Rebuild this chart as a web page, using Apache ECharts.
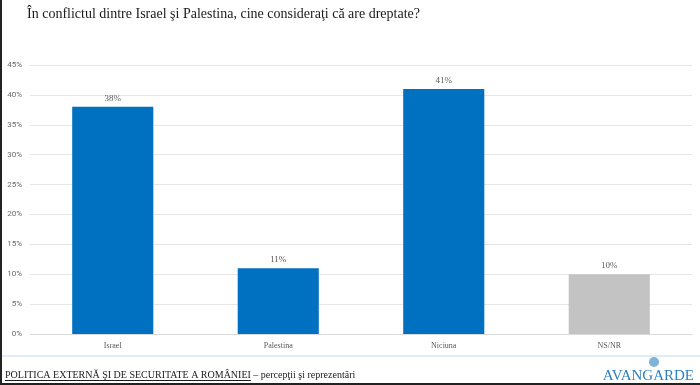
<!DOCTYPE html>
<html><head><meta charset="utf-8">
<script src="https://cdn.jsdelivr.net/npm/echarts@6/dist/echarts.min.js"></script>
<style>html,body{margin:0;padding:0;background:#fff}#c{width:700px;height:385px}</style>
</head><body><div id="c"></div>
<script>
const categories = ["Israel", "Palestina", "Niciuna", "NS/NR"];
const values = [38, 11, 41, 10];
const barColors = ["#0070c0", "#0070c0", "#0070c0", "#c3c3c3"];
const yTicks = [0, 5, 10, 15, 20, 25, 30, 35, 40, 45];
const titleText = "În conflictul dintre Israel şi Palestina, cine consideraţi că are dreptate?";
const footerMain = "POLITICA EXTERNĂ ŞI DE SECURITATE A ROMÂNIEI";
const footerSub = " – percepţii şi reprezentări";

const serif = '"Liberation Serif", "DejaVu Serif", serif';
const ctx = document.createElement('canvas').getContext('2d');
function w(text, font){ ctx.font = font; return ctx.measureText(text).width; }
const fFont = '10px ' + serif;
const tw = w(footerMain, fFont);

const chart = echarts.init(document.getElementById('c'), null, {renderer: 'canvas'});
chart.setOption({
  animation: false,
  backgroundColor: '#fff',
  grid: {left: 30, right: 8, top: 65, bottom: 51},
  xAxis: {
    type: 'category', data: categories,
    axisLine: {lineStyle: {color: '#d9d9d9'}},
    axisTick: {show: false},
    axisLabel: {color: '#595959', fontFamily: serif, fontSize: 8, margin: 8}
  },
  yAxis: {
    type: 'value', min: yTicks[0], max: yTicks[yTicks.length-1], interval: 5,
    axisLine: {show: false}, axisTick: {show: false},
    axisLabel: {color: '#6a6a6a', fontFamily: 'Roboto, sans-serif', fontSize: 8, margin: 8, formatter: v => v + '%'},
    splitLine: {lineStyle: {color: '#e6e6e6'}}
  },
  series: [{
    type: 'bar', barWidth: '49%',
    data: values.map((v, i) => ({value: v, itemStyle: {color: barColors[i]}})),
    label: {show: true, position: 'top', distance: 4, color: '#595959', fontFamily: serif, fontSize: 9, formatter: p => p.value + '%'}
  }],
  graphic: [
    {type: 'text', left: 27, top: 7, style: {text: titleText, font: '14px ' + serif, fill: '#1a1a1a'}},
    {type: 'line', shape: {x1: 0, y1: 356, x2: 700, y2: 356}, style: {stroke: '#c5d9ec', lineWidth: 1}},
    {type: 'text', left: 5, top: 370, style: {text: footerMain, font: fFont, fill: '#1a1a1a'}},
    {type: 'line', shape: {x1: 5, y1: 380.5, x2: 5 + tw, y2: 380.5}, style: {stroke: '#1a1a1a', lineWidth: 1}},
    {type: 'text', left: 5 + tw, top: 370, style: {text: footerSub, font: fFont, fill: '#1a1a1a'}},
    {type: 'text', right: 6, top: 369, style: {text: 'AVANGARDE', font: '15px ' + serif, fill: '#2f7fc1'}},
    {type: 'circle', shape: {cx: 654, cy: 362, r: 5}, style: {fill: '#7fb3d8'}},
    {type: 'rect', shape: {x: 0, y: 0, width: 2, height: 385}, style: {fill: '#222'}},
    {type: 'rect', shape: {x: 0, y: 383, width: 700, height: 2}, style: {fill: '#222'}}
  ]
});
</script></body></html>
